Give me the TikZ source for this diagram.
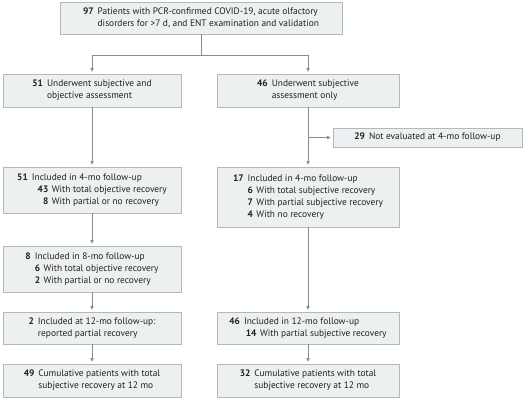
\documentclass[tikz,border=0pt]{standalone}
\usepackage{fontspec}
\setmainfont{PT Sans}
\usetikzlibrary{arrows.meta}
\definecolor{boxfill}{HTML}{ECF0F1}
\definecolor{boxdraw}{HTML}{B3B8BA}
\definecolor{linec}{HTML}{8A8A8A}
\definecolor{txt}{HTML}{231F20}
\newcommand{\mn}[1]{\textbf{#1}}
\newcommand{\sn}[3]{\hspace*{#1}\makebox[#2][r]{\textbf{#3}}\hspace{3.5pt}}
\begin{document}
\begin{tikzpicture}[x=1pt,y=1pt,
  fbox/.style={draw=boxdraw,fill=boxfill,line width=0.8pt,inner sep=0pt,
    text=txt,font=\fontsize{9.4}{11.8}\selectfont,align=left},
  arr/.style={draw=linec,line width=0.8pt,-{Triangle[length=3.5pt,width=3.2pt]},shorten >=2pt},
  ln/.style={draw=linec,line width=0.8pt}]
\useasboundingbox (0,0) rectangle (528,-400);
\node[fbox,minimum width=282pt,minimum height=32pt] (top) at (201,-18)
  {\begin{tabular}{@{}r@{\hspace{4pt}}l@{}}\mn{97} & Patients with PCR-confirmed COVID-19, acute olfactory\\ & disorders for >7 d, and ENT examination and validation\end{tabular}};
\node[fbox,minimum width=178pt,minimum height=33pt] (b51) at (92,-90.5)
  {\begin{tabular}{@{}r@{\hspace{4pt}}l@{}}\mn{51} & Underwent subjective and\\ & objective assessment\end{tabular}};
\node[fbox,minimum width=182pt,minimum height=33pt] (b46) at (308,-90.5)
  {\begin{tabular}{@{}r@{\hspace{4pt}}l@{}}\mn{46} & Underwent subjective\\ & assessment only\end{tabular}};
\node[fbox,minimum width=189pt,minimum height=19pt] (b29) at (427.5,-137.5)
  {\begin{tabular}{@{}r@{\hspace{4pt}}l@{}}\mn{29} & Not evaluated at 4-mo follow-up\end{tabular}};
\node[fbox,minimum width=178pt,minimum height=46pt] (b51i) at (92,-190)
  {\begin{tabular}{@{}r@{\hspace{4pt}}l@{}}\mn{51} & Included in 4-mo follow-up\\ & \sn{6pt}{10.5pt}{43}With total objective recovery\\ & \sn{6pt}{10.5pt}{8}With partial or no recovery\end{tabular}};
\node[fbox,minimum width=182pt,minimum height=60pt] (b17) at (308,-197)
  {\begin{tabular}{@{}r@{\hspace{4pt}}l@{}}\mn{17} & Included in 4-mo follow-up\\ & \sn{0pt}{5.3pt}{6}With total subjective recovery\\ & \sn{0pt}{5.3pt}{7}With partial subjective recovery\\ & \sn{0pt}{5.3pt}{4}With no recovery\end{tabular}};
\node[fbox,minimum width=178pt,minimum height=46pt] (b8) at (92,-269)
  {\begin{tabular}{@{}r@{\hspace{4pt}}l@{}}\mn{8} & Included in 8-mo follow-up\\ & \sn{0pt}{5.3pt}{6}With total objective recovery\\ & \sn{0pt}{5.3pt}{2}With partial or no recovery\end{tabular}};
\node[fbox,minimum width=178pt,minimum height=32pt] (b2) at (92,-328)
  {\begin{tabular}{@{}r@{\hspace{4pt}}l@{}}\mn{2} & Included at 12-mo follow-up:\\ & reported partial recovery\end{tabular}};
\node[fbox,minimum width=182pt,minimum height=32pt] (b46i) at (308,-328)
  {\begin{tabular}{@{}r@{\hspace{4pt}}l@{}}\mn{46} & Included in 12-mo follow-up\\ & \sn{2pt}{10.5pt}{14}With partial subjective recovery\end{tabular}};
\node[fbox,minimum width=178pt,minimum height=33pt] (b49) at (92,-380.5)
  {\begin{tabular}{@{}r@{\hspace{4pt}}l@{}}\mn{49} & Cumulative patients with total\\ & subjective recovery at 12 mo\end{tabular}};
\node[fbox,minimum width=182pt,minimum height=33pt] (b32) at (308,-380.5)
  {\begin{tabular}{@{}r@{\hspace{4pt}}l@{}}\mn{32} & Cumulative patients with total\\ & subjective recovery at 12 mo\end{tabular}};
\coordinate (j) at (201,-55);
\coordinate (k) at (308,-137.5);
\draw[ln] (top.south) -- (j);
\draw[arr] (j) -| (b51.north);
\draw[arr] (j) -| (b46.north);
\draw[arr] (b51.south) -- (b51i.north);
\draw[arr] (b46.south) -- (b17.north);
\draw[arr] (k) -- (b29.west);
\draw[arr] (b51i.south) -- (b8.north);
\draw[arr] (b8.south) -- (b2.north);
\draw[arr] (b2.south) -- (b49.north);
\draw[arr] (b17.south) -- (b46i.north);
\draw[arr] (b46i.south) -- (b32.north);
\end{tikzpicture}
\end{document}
